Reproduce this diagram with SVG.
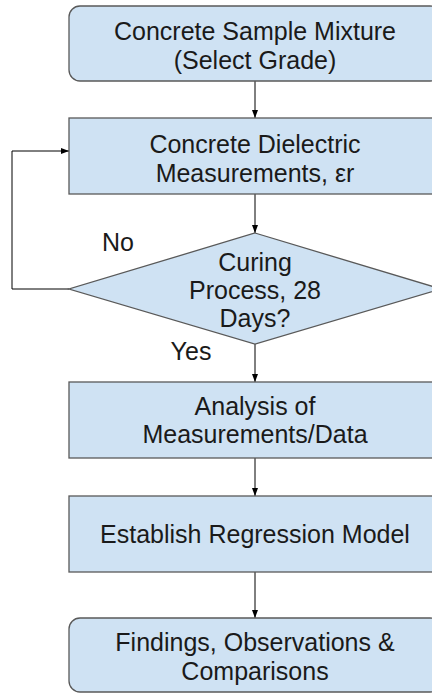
<svg xmlns="http://www.w3.org/2000/svg" width="432" height="693" viewBox="0 0 432 693">
<style>
.n{fill:#cfe2f3;stroke:#595959;stroke-width:1.3}
.t{font-family:"Liberation Sans",Arial,sans-serif;font-size:25px;fill:#1a1a1a;text-anchor:middle}
.c{fill:none;stroke:#000;stroke-width:1}
</style>
<defs>
<marker id="ah" viewBox="0 0 8 8" refX="8" refY="4" markerWidth="8" markerHeight="8" markerUnits="userSpaceOnUse" orient="auto">
<path d="M0,1 L8,4 L0,7 Z" fill="#000"/>
</marker>
</defs>
<rect width="432" height="693" fill="#fff"/>
<g id="connectors">
<line class="c" x1="255" y1="81" x2="255" y2="118" marker-end="url(#ah)"/>
<line class="c" x1="255" y1="194" x2="255" y2="233" marker-end="url(#ah)"/>
<line class="c" x1="255" y1="344" x2="255" y2="382" marker-end="url(#ah)"/>
<line class="c" x1="255" y1="458" x2="255" y2="496" marker-end="url(#ah)"/>
<line class="c" x1="255" y1="572" x2="255" y2="618" marker-end="url(#ah)"/>
<polyline class="c" points="69,289 12,289 12,151 69,151" marker-end="url(#ah)"/>
<text class="t" x="118" y="251">No</text>
<text class="t" x="191" y="360">Yes</text>
</g>
<g id="start">
<rect class="n" x="69" y="6" width="372" height="75" rx="11"/>
<text class="t" x="255" y="40">Concrete Sample Mixture</text>
<text class="t" x="255" y="69">(Select Grade)</text>
</g>
<g id="measure">
<rect class="n" x="69" y="118" width="372" height="76"/>
<text class="t" x="255" y="153">Concrete Dielectric</text>
<text class="t" x="255" y="182">Measurements, εr</text>
</g>
<g id="curing">
<polygon class="n" points="255,233 441,289 255,344 69,289"/>
<text class="t" x="255" y="271">Curing</text>
<text class="t" x="255" y="299">Process, 28</text>
<text class="t" x="255" y="327">Days?</text>
</g>
<g id="analysis">
<rect class="n" x="69" y="382" width="372" height="76"/>
<text class="t" x="255" y="415">Analysis of</text>
<text class="t" x="255" y="443">Measurements/Data</text>
</g>
<g id="regression">
<rect class="n" x="69" y="496" width="372" height="76"/>
<text class="t" x="255" y="543">Establish Regression Model</text>
</g>
<g id="findings">
<rect class="n" x="69" y="618" width="372" height="74" rx="11"/>
<text class="t" x="255" y="651">Findings, Observations &amp;</text>
<text class="t" x="255" y="680">Comparisons</text>
</g>
</svg>
